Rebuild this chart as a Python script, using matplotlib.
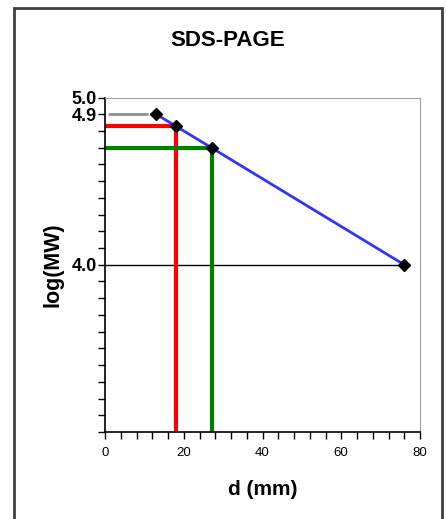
import matplotlib.pyplot as plt
from matplotlib.patches import Rectangle
from matplotlib.ticker import MultipleLocator

# standards used for the calibration line
std_d = [13, 76]
std_logmw = [4.9, 4.0]
# unknown bands
unk_d = [18, 27.2]
unk_logmw = [4.83, 4.70]
unk_colors = ['#ff0000', '#008000']

plt.rcParams['font.family'] = ['Liberation Sans', 'DejaVu Sans']

W, H = 446, 519
fig = plt.figure(figsize=(W / 100, H / 100), dpi=100)

# outer frame
fig.patches.append(Rectangle((14 / W, -0.01), (442 - 14) / W, 1 - 8 / H + 0.01,
                             transform=fig.transFigure, fill=False,
                             edgecolor='#404040', linewidth=2))

ax = fig.add_axes([105 / W, 1 - 432 / H, 315 / W, 334.5 / H])
ax.set_xlim(0, 80)
ax.set_ylim(3.0, 5.0)

# reference lines for the standards
ax.plot([0.8, std_d[0] - 2.2], [std_logmw[0]] * 2, color='#909090', lw=2, solid_capstyle='butt')
ax.plot([0, std_d[1]], [std_logmw[1]] * 2, color='black', lw=1)

# unknowns
for d, y, c in zip(unk_d, unk_logmw, unk_colors):
    ax.plot([0, d, d], [y, y, 3.0], color=c, lw=3, solid_joinstyle='miter')

# calibration line
ax.plot(std_d, std_logmw, color='#3333ff', lw=2)
ax.plot(std_d + unk_d, std_logmw + unk_logmw, 'D', color='black', ms=6.5, ls='none')

ax.xaxis.set_major_locator(MultipleLocator(20))
ax.xaxis.set_minor_locator(MultipleLocator(4))
ax.set_yticks([5.0, 4.9, 4.0], ['5.0', '4.9', '4.0'], minor=False)
ax.set_yticks([3.0 + 0.1 * i for i in range(21)], minor=True)
ax.tick_params(axis='both', which='both', direction='out', length=5, width=1, color='black')
ax.tick_params(axis='x', labelsize=9.5, pad=6)
ax.tick_params(axis='y', labelsize=13, pad=1)
for lab in ax.get_yticklabels():
    lab.set_fontweight('bold')

for s in ['top', 'right']:
    ax.spines[s].set_color('#a0a0a0')
for s in ['left', 'bottom']:
    ax.spines[s].set_color('black')
    ax.spines[s].set_linewidth(1.2)

ax.set_xlabel('d (mm)', fontsize=15, fontweight='bold', labelpad=15)
ax.set_ylabel('log(MW)', fontsize=15.5, fontweight='bold', labelpad=6)
fig.text(228 / W, 1 - 40 / H, 'SDS-PAGE', ha='center', va='center',
         fontsize=16, fontweight='bold')

fig.savefig('out.png', dpi=100)
